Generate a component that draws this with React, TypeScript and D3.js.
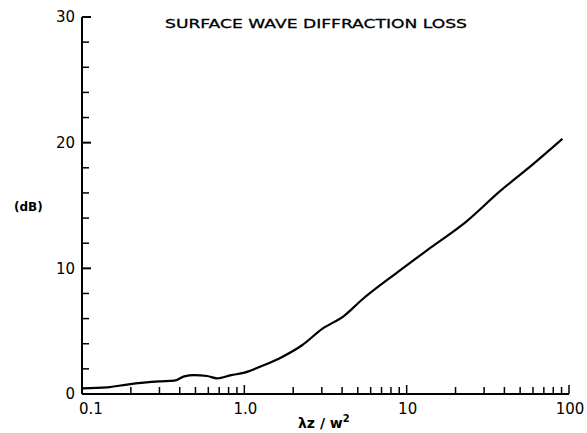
import React from 'react';
import * as d3 from 'd3';

// lambda z / w^2 values and loss
const xValues = [0.1, 0.143, 0.189, 0.24, 0.3, 0.37, 0.426, 0.49, 0.59, 0.68, 0.83, 1.0, 1.27, 1.53, 1.72, 2.28, 3.03, 4.1, 5.3, 8.6, 13.9, 23.2, 37.3, 59.6, 91];
const lossDb = [0.45, 0.53, 0.75, 0.9, 1.0, 1.06, 1.4, 1.5, 1.43, 1.25, 1.5, 1.7, 2.2, 2.65, 2.97, 3.9, 5.2, 6.2, 7.5, 9.6, 11.6, 13.7, 16.1, 18.25, 20.3];

const yTickLabels = [0, 10, 20, 30];
const yMinorTicks = [2, 4, 6, 8, 12, 14, 16, 18, 22, 24, 26, 28];
const xTickLabels = ['0.1', '1.0', '10', '100'];
const xMajorTicks = [0.1, 1, 10, 100];

const title = 'SURFACE WAVE DIFFRACTION LOSS';

export default function App() {
  const width = 587;
  const height = 433;
  const left = 82;
  const right = 569;
  const top = 17;
  const bottom = 394;

  const x = d3.scaleLog().domain([0.1, 100]).range([left, right]);
  const y = d3.scaleLinear().domain([0, 30]).range([bottom, top]);

  const xMinor: number[] = [];
  [0.1, 1, 10].forEach(d => {
    for (let k = 2; k <= 9; k++) xMinor.push(d * k);
  });

  const line = d3.line<number>()
    .x((d, i) => x(xValues[i]))
    .y(d => y(d))
    .curve(d3.curveMonotoneX);

  const font = '"DejaVu Sans", sans-serif';

  return (
    <svg width={width} height={height} style={{ position: 'absolute', left: 0, top: 0, background: '#fff' }}>
      <g stroke="#000" strokeWidth={2} fill="none">
        <line x1={left} x2={left} y1={top} y2={bottom} />
        <line x1={left} x2={right} y1={bottom} y2={bottom} />
        {yTickLabels.map(d => (
          <line key={'ym' + d} x1={left} x2={left + 9} y1={y(d)} y2={y(d)} />
        ))}
        {yMinorTicks.map(d => (
          <line key={'yn' + d} x1={left} x2={left + 7} y1={y(d)} y2={y(d)} strokeWidth={1.5} />
        ))}
        {xMajorTicks.slice(1).map(d => (
          <line key={'xm' + d} x1={x(d)} x2={x(d)} y1={bottom} y2={bottom - 9} strokeWidth={1.5} />
        ))}
        {xMinor.map(d => (
          <line key={'xn' + d} x1={x(d)} x2={x(d)} y1={bottom} y2={bottom - 7} strokeWidth={1.5} />
        ))}
        <path d={line(lossDb) || ''} strokeWidth={2.2} strokeLinejoin="round" />
      </g>

      <g fontFamily={font} fontSize={15} fill="#000">
        {yTickLabels.map(d => (
          <text key={'yl' + d} x={left - 7} y={y(d)} dy="0.36em" textAnchor="end">{d}</text>
        ))}
        {xMajorTicks.map((d, i) => (
          <text key={'xl' + d} x={i === 0 ? x(d) + 9 : x(d) + 1} y={414} textAnchor="middle">{xTickLabels[i]}</text>
        ))}
      </g>

      <text x={165} y={28} fontFamily={font} fontSize={13} fontWeight={500} stroke="#000" strokeWidth={0.3} textLength={302} lengthAdjust="spacingAndGlyphs">{title}</text>
      <text x={14} y={211} fontFamily={font} fontSize={12} fontWeight="bold">(dB)</text>
      <text x={298} y={428} fontFamily={font} fontSize={14} fontWeight="bold">
        λz / w<tspan dy={-6} fontSize={10}>2</tspan>
      </text>
    </svg>
  );
}
